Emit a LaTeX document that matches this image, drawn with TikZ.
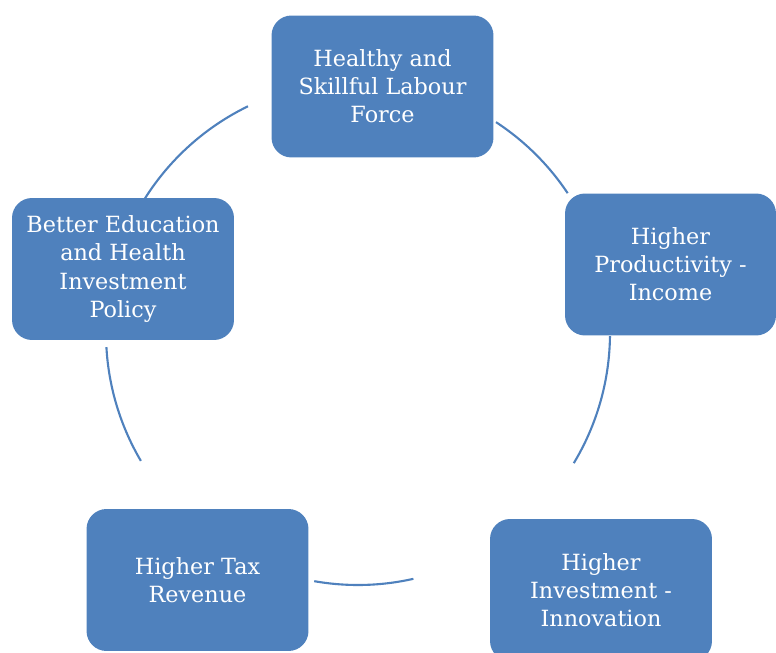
\documentclass[tikz,border=0pt]{standalone}
\usepackage{fontspec}
\setmainfont{DejaVu Serif}
\usepackage{xcolor}
\usetikzlibrary{positioning}
\definecolor{cycleblue}{HTML}{4F81BD}

\begin{document}
\begin{tikzpicture}[
		x=0.02cm, y=0.02cm,
		stage/.style={rectangle, rounded corners=0.4cm, fill=cycleblue, text=white,
			minimum width=4.44cm, minimum height=2.84cm, align=center,
			font=\fontsize{12.7}{16}\selectfont},
		link/.style={draw=cycleblue, line width=1.2pt}
		]
	\useasboundingbox (0,0) rectangle (776,652);

	% --- the five stages of the cycle ---
	\node[stage] (labour) at (382.5,565.5) {Healthy and\\Skillful Labour\\Force};
	\node[stage, minimum width=4.22cm] (income) at (670.5,387.5) {Higher\\Productivity -\\Income};
	\node[stage] (invest) at (601,62) {Higher\\Investment -\\Innovation};
	\node[stage] (tax) at (197.5,72) {Higher Tax\\Revenue};
	\node[stage] (policy) at (123,383) {Better Education\\and Health\\Investment\\Policy};

	% --- arcs between the stages, all on one circle round the hub ---
	\coordinate (hub) at (358,319);
	\foreach \a/\b in {56.8/33.7, -0.7/-31.1, -77.3/-100, -149.5/-176.8, 147.7/115.9}
		\draw[link] ([shift={(\a:252)}]hub) arc[start angle=\a, end angle=\b, radius=252];

\end{tikzpicture}
\end{document}
